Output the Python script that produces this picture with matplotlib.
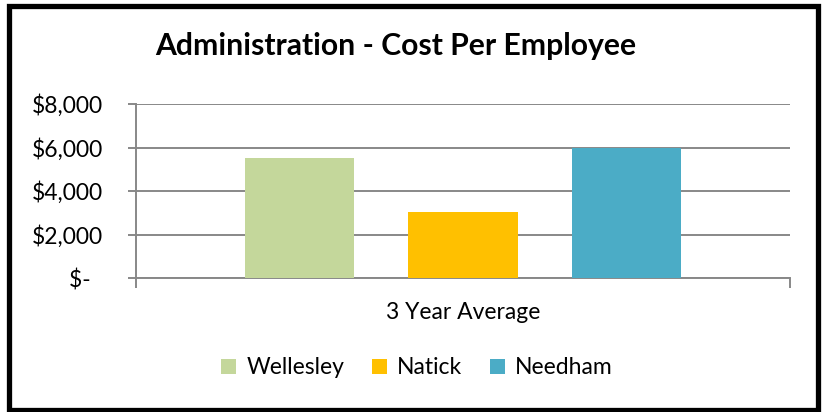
import matplotlib.pyplot as plt
from matplotlib.patches import Patch, Rectangle
from matplotlib.ticker import FuncFormatter

# --- data ---
towns = ["Wellesley", "Natick", "Needham"]
costs = [5520, 3050, 5980]
colors = ["#C4D79B", "#FFC000", "#4BACC6"]
category = "3 Year Average"
y_ticks = [0, 2000, 4000, 6000, 8000]

plt.rcParams["font.family"] = ["Lato", "DejaVu Sans"]
grid_col = "#888888"
fs = 16.5

fig = plt.figure(figsize=(8.22, 4.12), dpi=100)
ax = fig.add_axes([136 / 822, 1 - 278 / 412, (790 - 136) / 822, (278 - 104) / 412])

# three series in one category, one unit apart
offsets = [i - 1 for i in range(len(towns))]
for off, val, col in zip(offsets, costs, colors):
    ax.bar(off, val, width=0.67, color=col, zorder=3)

ax.set_xlim(-2, 2)
ax.set_ylim(0, 8000)
ax.set_yticks(y_ticks)
ax.yaxis.set_major_formatter(FuncFormatter(lambda v, p: "$-  " if v == 0 else f"${v:,.0f}"))
ax.tick_params(axis="y", length=6, width=1.4, color=grid_col, pad=18, labelsize=fs)

ax.set_xticks([0])
ax.set_xticklabels([category])
ax.set_xticks([-2, 2], minor=True)
ax.tick_params(axis="x", which="major", length=0, pad=17, labelsize=fs)
ax.tick_params(axis="x", which="minor", length=7, width=1.4, color=grid_col)

ax.yaxis.grid(True, color=grid_col, linewidth=1.4, zorder=0)
ax.set_axisbelow(True)
for s in ["top", "right"]:
    ax.spines[s].set_visible(False)
for s in ["left", "bottom"]:
    ax.spines[s].set_color(grid_col)
    ax.spines[s].set_linewidth(1.4)

fig.text(396 / 822, 1 - 46 / 412, "Administration - Cost Per Employee",
         ha="center", va="center", fontsize=21.7, fontweight="bold")

handles = [Patch(facecolor=c, label=t) for t, c in zip(towns, colors)]
fig.legend(handles=handles, loc="center", bbox_to_anchor=(417 / 822, 1 - 368 / 412),
           ncol=3, frameon=False, fontsize=fs, handlelength=0.65, handleheight=0.65,
           handletextpad=0.45, columnspacing=1.2)

# black frame round the chart
fig.patches.append(Rectangle((8.5 / 822, 1 - 409.5 / 412), (818 - 8.5) / 822, (409.5 - 6) / 412,
                             transform=fig.transFigure, fill=False, edgecolor="black",
                             linewidth=3.8))

fig.savefig("out.png", dpi=100)
